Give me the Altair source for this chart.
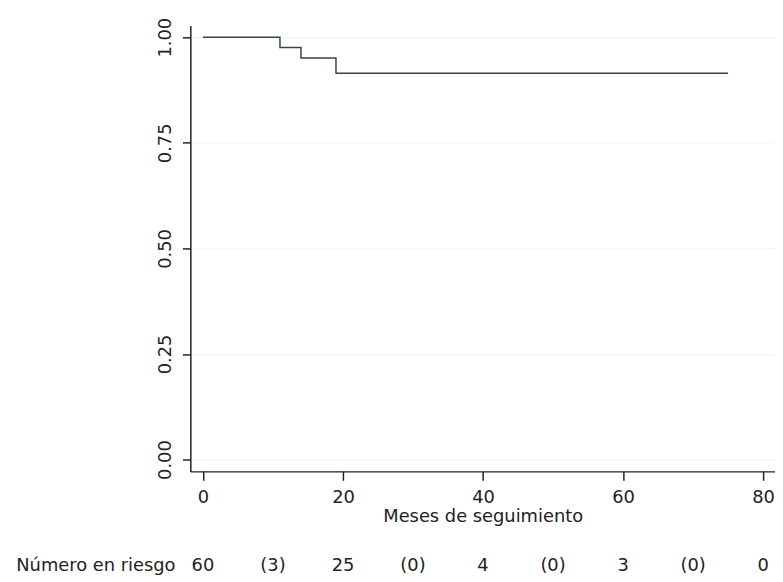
import altair as alt
import pandas as pd

# Kaplan-Meier step curve
km_time = [0, 11, 14, 19, 75]
km_surv = [1.0, 0.976, 0.951, 0.915, 0.915]

# Number-at-risk table
risk_time = [0, 10, 20, 30, 40, 50, 60, 70, 80]
risk_text = ["60", "(3)", "25", "(0)", "4", "(0)", "3", "(0)", "0"]

x_ticks = [0, 20, 40, 60, 80]
y_ticks = [0.0, 0.25, 0.5, 0.75, 1.0]

FONT = "DejaVu Sans"
LINE = "#34434f"
AXIS = "#222222"

km = pd.DataFrame({"t": km_time, "s": km_surv})
risk = pd.DataFrame({"t": risk_time, "label": risk_text})
lab = pd.DataFrame({"label": ["Número en riesgo"]})

xscale = alt.Scale(domain=[-1.8, 81.7], nice=False, zero=False)
yscale = alt.Scale(domain=[-0.028, 1.028], nice=False, zero=False)

line = alt.Chart(km).mark_line(
    interpolate="step-after", color=LINE, strokeWidth=1.5
).encode(
    x=alt.X("t:Q", scale=xscale,
            axis=alt.Axis(values=x_ticks, format="d", title="Meses de seguimiento",
                          grid=False, tickSize=9, labelPadding=8, titlePadding=2,
                          labelFontSize=18, titleFontSize=18, labelFont=FONT,
                          titleFont=FONT, titleFontWeight="normal",
                          domainColor=AXIS, tickColor=AXIS, labelColor="#222222",
                          titleColor="#222222", domainWidth=1.5, tickWidth=1.5)),
    y=alt.Y("s:Q", scale=yscale,
            axis=alt.Axis(values=y_ticks, format=".2f", title=None,
                          grid=True, gridColor="#eef2f2", gridWidth=1,
                          tickSize=8, labelPadding=8, labelAngle=270,
                          labelFontSize=18, labelFont=FONT,
                          domainColor=AXIS, tickColor=AXIS, labelColor="#222222",
                          domainWidth=1.5, tickWidth=1.5)),
)

risk_layer = alt.Chart(risk).mark_text(
    font=FONT, fontSize=18, color="#222222", baseline="middle", align="center"
).encode(
    x=alt.X("t:Q", scale=xscale),
    y=alt.value(546),
    text="label:N",
)

risk_label = alt.Chart(lab).mark_text(
    font=FONT, fontSize=18, color="#222222", baseline="middle", align="right"
).encode(
    x=alt.value(-15),
    y=alt.value(546),
    text="label:N",
)

chart = alt.layer(line, risk_layer, risk_label).properties(
    width=590,
    height=450,
    autosize=alt.AutoSizeParams(type="none"),
    padding={"left": 184, "top": 15, "right": 0, "bottom": 107},
    background="white",
).configure_view(stroke=None)

chart.save("out.html", embed_options={"renderer": "svg", "actions": False})
